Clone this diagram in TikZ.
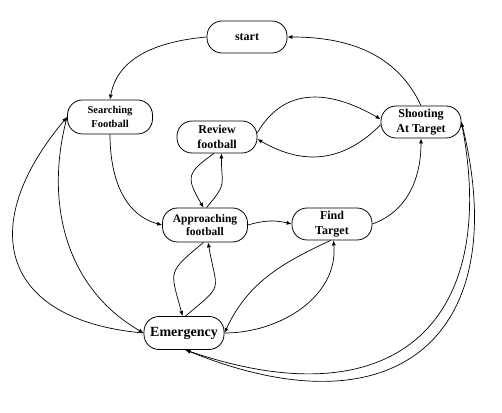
\documentclass[tikz,border=0pt]{standalone}
\usepackage{fontspec}
\setmainfont{Liberation Serif}
\usetikzlibrary{arrows.meta}

\begin{document}
\begin{tikzpicture}[x=1pt, y=1pt,
    state/.style={draw, line width=0.8pt, rounded corners=15pt, minimum width=80pt, minimum height=32pt,
        align=center, inner sep=1pt, font=\bfseries\fontsize{12}{15.5}\selectfont},
    trans/.style={line width=0.7pt, -{Latex[length=5pt,width=4pt]}}]
    \useasboundingbox (0,0) rectangle (502,412);

    % States
    \node[state] (start) at (247,375) {start};
    \node[state, minimum width=85pt, minimum height=34pt, font=\bfseries\fontsize{10.5}{13.5}\selectfont] (search) at (110,295) {Searching\\Football};
    \node[state] (review) at (217,275) {Review\\football};
    \node[state] (shoot) at (421,290) {Shooting\\At Target};
    \node[state, minimum width=85pt, minimum height=34pt, font=\bfseries\fontsize{11.5}{13.5}\selectfont] (approach) at (205,187) {Approaching\\football};
    \node[state] (find) at (332,188) {Find\\Target};
    \node[state, minimum height=33pt, font=\bfseries\fontsize{14}{16}\selectfont] (emerg) at (184,79) {Emergency};

    % Main loop
    \draw[trans] (start.west) to[out=185,in=80] (search.north);
    \draw[trans] (search.south) to[out=-90,in=165] (approach.west);
    \draw[trans] (approach.east) to[bend left=15] (find.west);
    \draw[trans] (find.east) to[out=20,in=-90] (shoot.south);
    \draw[trans] (shoot.north) to[out=115,in=0] (start.east);

    % Review <-> Shooting
    \draw[trans] (review.6) to[out=60,in=150,looseness=1.15] (shoot.176);
    \draw[trans] (shoot.184) to[out=-135,in=-30,looseness=1.1] (review.-3);

    % Review <-> Approaching
    \draw[trans] (review.-100) to[out=-145,in=120,looseness=1.6] (approach.95);
    \draw[trans] (approach.85) to[out=50,in=-90,looseness=1.5] (review.-75);

    % Approaching <-> Emergency
    \draw[trans] (approach.-95) to[out=-140,in=105,looseness=1.6] (emerg.95);
    \draw[trans] (emerg.85) to[out=40,in=-80,looseness=1.7] (approach.-80);

    % Find <-> Emergency
    \draw[trans] (find.-95) to[out=-155,in=65] (emerg.east);
    \draw[trans] (emerg.east) to[out=0,in=-85] (find.-85);

    % Searching <-> Emergency
    \draw[trans] (emerg.west) to[out=175,in=-130,looseness=1.6] (search.west);
    \draw[trans] (search.west) to[out=-105,in=150] (emerg.west);

    % Shooting <-> Emergency
    \draw[trans] (shoot.east) .. controls (515,80) and (400,-25) .. (emerg.-85);
    \draw[trans] (emerg.-85) .. controls (390,-10) and (500,85) .. (shoot.east);
\end{tikzpicture}
\end{document}
